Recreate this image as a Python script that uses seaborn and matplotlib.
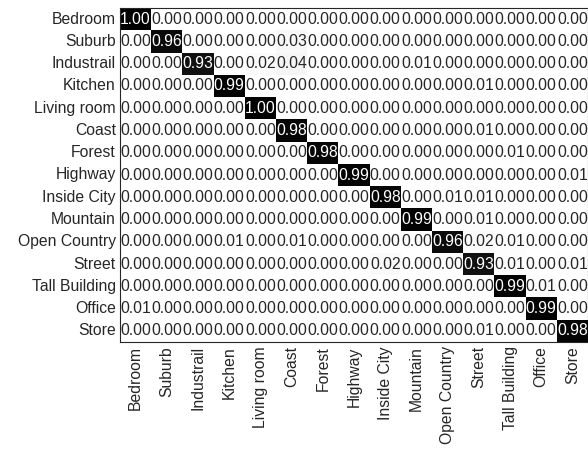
import numpy as np
import pandas as pd
import matplotlib
matplotlib.use("Agg")
import matplotlib.pyplot as plt
import seaborn as sns

classes = ["Bedroom", "Suburb", "Industrail", "Kitchen", "Living room", "Coast",
           "Forest", "Highway", "Inside City", "Mountain", "Open Country", "Street",
           "Tall Building", "Office", "Store"]

# row-normalised confusion matrix (rows = true class, columns = predicted class)
bedroom      = [1.00, 0.00, 0.00, 0.00, 0.00, 0.00, 0.00, 0.00, 0.00, 0.00, 0.00, 0.00, 0.00, 0.00, 0.00]
suburb       = [0.00, 0.96, 0.00, 0.00, 0.00, 0.03, 0.00, 0.00, 0.00, 0.00, 0.00, 0.00, 0.00, 0.00, 0.00]
industrail   = [0.00, 0.00, 0.93, 0.00, 0.02, 0.04, 0.00, 0.00, 0.00, 0.01, 0.00, 0.00, 0.00, 0.00, 0.00]
kitchen      = [0.00, 0.00, 0.00, 0.99, 0.00, 0.00, 0.00, 0.00, 0.00, 0.00, 0.00, 0.01, 0.00, 0.00, 0.00]
living_room  = [0.00, 0.00, 0.00, 0.00, 1.00, 0.00, 0.00, 0.00, 0.00, 0.00, 0.00, 0.00, 0.00, 0.00, 0.00]
coast        = [0.00, 0.00, 0.00, 0.00, 0.00, 0.98, 0.00, 0.00, 0.00, 0.00, 0.00, 0.01, 0.00, 0.00, 0.00]
forest       = [0.00, 0.00, 0.00, 0.00, 0.00, 0.00, 0.98, 0.00, 0.00, 0.00, 0.00, 0.00, 0.01, 0.00, 0.00]
highway      = [0.00, 0.00, 0.00, 0.00, 0.00, 0.00, 0.00, 0.99, 0.00, 0.00, 0.00, 0.00, 0.00, 0.00, 0.01]
inside_city  = [0.00, 0.00, 0.00, 0.00, 0.00, 0.00, 0.00, 0.00, 0.98, 0.00, 0.01, 0.01, 0.00, 0.00, 0.00]
mountain     = [0.00, 0.00, 0.00, 0.00, 0.00, 0.00, 0.00, 0.00, 0.00, 0.99, 0.00, 0.01, 0.00, 0.00, 0.00]
open_country = [0.00, 0.00, 0.00, 0.01, 0.00, 0.01, 0.00, 0.00, 0.00, 0.00, 0.96, 0.02, 0.01, 0.00, 0.00]
street       = [0.00, 0.00, 0.00, 0.00, 0.00, 0.00, 0.00, 0.00, 0.02, 0.00, 0.00, 0.93, 0.01, 0.00, 0.01]
tall_building= [0.00, 0.00, 0.00, 0.00, 0.00, 0.00, 0.00, 0.00, 0.00, 0.00, 0.00, 0.00, 0.99, 0.01, 0.00]
office       = [0.01, 0.00, 0.00, 0.00, 0.00, 0.00, 0.00, 0.00, 0.00, 0.00, 0.00, 0.00, 0.00, 0.99, 0.00]
store        = [0.00, 0.00, 0.00, 0.00, 0.00, 0.00, 0.00, 0.00, 0.00, 0.00, 0.00, 0.01, 0.00, 0.00, 0.98]

rows = [bedroom, suburb, industrail, kitchen, living_room, coast, forest, highway,
        inside_city, mountain, open_country, street, tall_building, office, store]
cm = pd.DataFrame(rows, index=classes, columns=classes)

sns.set_theme(style="white")
plt.rcParams["font.family"] = ["Liberation Sans", "DejaVu Sans"]

ink = "#262626"
fig = plt.figure(figsize=(5.88, 4.53), dpi=100)
ax = fig.add_axes([120 / 588, 1 - 342 / 453, 468 / 588, 334 / 453])

sns.heatmap(cm, ax=ax, cmap="gray_r", vmin=0, vmax=1, cbar=False,
            annot=True, fmt=".2f", annot_kws={"size": 11.3})

for t in ax.texts:
    if t.get_color() in ("black", "#000000", (0, 0, 0), (0.0, 0.0, 0.0, 1.0)):
        t.set_color(ink)

for s in ax.spines.values():
    s.set_visible(True)
    s.set_color(ink)
    s.set_linewidth(0.8)

ax.tick_params(axis="both", direction="in", length=4, width=0.6, color="#555555",
               labelsize=11.3, labelcolor=ink, top=True, bottom=True, left=True,
               right=False, pad=3)
ax.set_xticklabels(classes, rotation=90)
ax.set_yticklabels(classes, rotation=0)
ax.set_xlabel("")
ax.set_ylabel("")

fig.savefig("out.png", dpi=100)
